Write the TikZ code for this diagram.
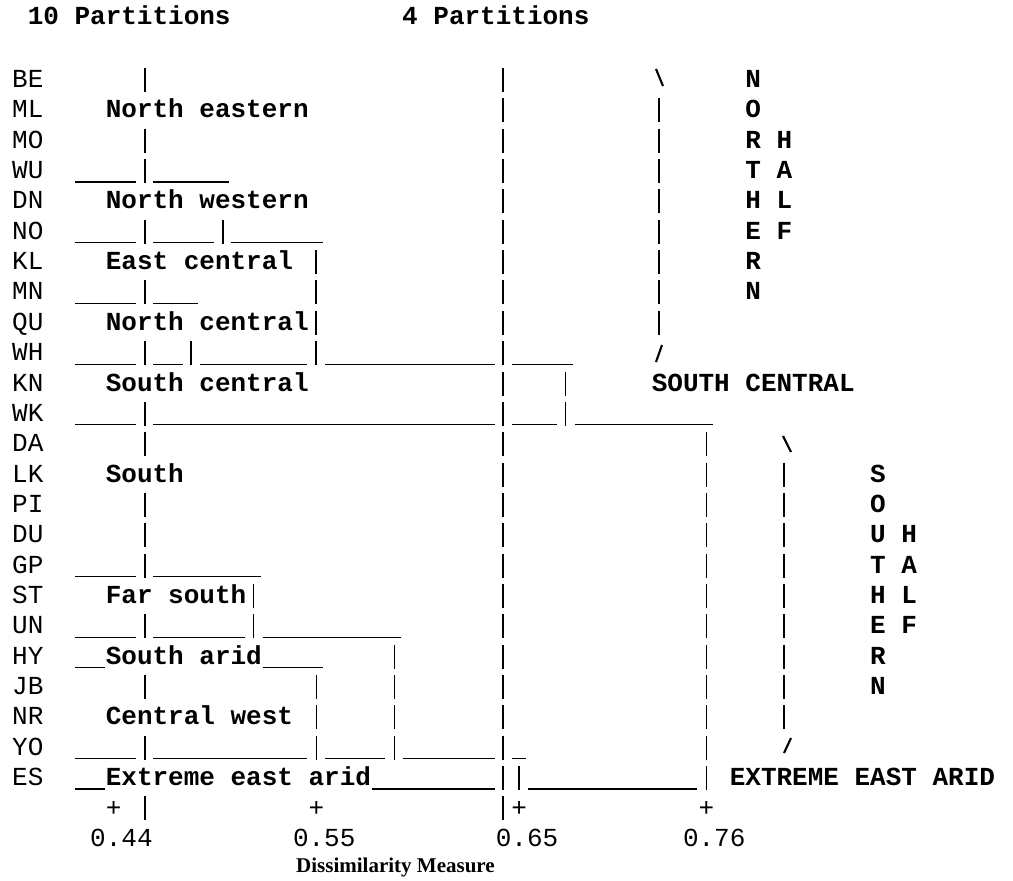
\documentclass[tikz,border=0pt]{standalone}
\usepackage{fontspec}
\setmonofont{Liberation Mono}
\newfontfamily\tnr{Liberation Serif}
\tikzset{
  declare function={cx(\c)=12+15.6*\c; ry(\r)=80+30.35*\r;},
  bar/.style={line width=2.1pt},
  thinbar/.style={line width=1.2pt},
  usline/.style={line width=1.2pt},
  lab/.style={anchor=base west, inner sep=0pt, font=\fontsize{26}{30}\selectfont\ttfamily},
  blab/.style={anchor=base west, inner sep=0pt, font=\fontsize{26}{30}\selectfont\ttfamily\bfseries},
}
\newcommand{\VB}[3][bar]{\draw[#1] ({cx(#3+0.5)},{ry(#2)-12}) -- ({cx(#3+0.5)},{ry(#2)+12});}
\newcommand{\US}[3]{\draw[usline] ({cx(#2)+1},{ry(#1)+11}) -- ({cx(#3+1)-1},{ry(#1)+11});}
\begin{document}
\begin{tikzpicture}[x=1pt,y=-1pt]
\path[fill=white] (0,0) rectangle (1013,881);
\useasboundingbox (0,0) rectangle (1013,881);
% headings
\node[blab] (h10) at ({cx(1)},24.5) {10 Partitions};
\node[blab] (h4) at ({cx(25)},24.5) {4 Partitions};
% row labels
\foreach \t [count=\i from 0] in {BE,ML,MO,WU,DN,NO,KL,MN,QU,WH,KN,WK,DA,LK,PI,DU,GP,ST,UN,HY,JB,NR,YO,ES}
  \node[lab] (row\i) at ({cx(0)},{ry(\i)+7.5}) {\t};
% cluster labels
\node[blab] (c1) at ({cx(6)},{ry(1)+7.5}) {North eastern};
\node[blab] (c2) at ({cx(6)},{ry(4)+7.5}) {North western};
\node[blab] (c3) at ({cx(6)},{ry(6)+7.5}) {East central};
\node[blab] (c4) at ({cx(6)},{ry(8)+7.5}) {North central};
\node[blab] (c5) at ({cx(6)},{ry(10)+7.5}) {South central};
\node[blab] (c6) at ({cx(6)},{ry(13)+7.5}) {South};
\node[blab] (c7) at ({cx(6)},{ry(17)+7.5}) {Far south};
\node[blab] (c8) at ({cx(6)},{ry(19)+7.5}) {South arid};
\node[blab] (c9) at ({cx(6)},{ry(21)+7.5}) {Central west};
\node[blab] (c10) at ({cx(6)},{ry(23)+7.5}) {Extreme east arid};
\node[blab] (p1) at ({cx(41)},{ry(10)+7.5}) {SOUTH CENTRAL};
\node[blab] (p2) at ({cx(46)},{ry(23)+7.5}) {EXTREME EAST ARID};
% vertical words
\foreach \t [count=\i from 0] in {N,O,R,T,H,E,R,N}
  \node[blab] (n\i) at ({cx(47)},{ry(\i)+7.5}) {\t};
\foreach \t [count=\i from 2] in {H,A,L,F}
  \node[blab] (nh\i) at ({cx(49)},{ry(\i)+7.5}) {\t};
\foreach \t [count=\i from 13] in {S,O,U,T,H,E,R,N}
  \node[blab] (s\i) at ({cx(55)},{ry(\i)+7.5}) {\t};
\foreach \t [count=\i from 15] in {H,A,L,F}
  \node[blab] (sh\i) at ({cx(57)},{ry(\i)+7.5}) {\t};
% vertical bars
\foreach \r in {0,2,3,5,7,9,11,12,14,15,16,18,20,22,24} {\VB{\r}{8}}
\VB{5}{13}
\VB{9}{11}
\foreach \r in {6,7,8,9} {\VB{\r}{19}}
\foreach \r in {20,21,22} {\VB[thinbar]{\r}{19}}
\foreach \r in {17,18} {\VB[thinbar]{\r}{15}}
\foreach \r in {19,20,21,22} {\VB[thinbar]{\r}{24}}
\foreach \r in {0,...,24} {\VB{\r}{31}}
\VB[thinbar]{23}{32}
\foreach \r in {10,11} {\VB[thinbar]{\r}{35}}
\foreach \r in {1,...,8} {\VB{\r}{41}}
\foreach \r in {12,...,23} {\VB[thinbar]{\r}{44}}
\foreach \r in {13,...,21} {\VB{\r}{49}}
% slashes
\draw[bar] (656,69) -- (663,86);
\draw[bar] (656,362) -- (662,345);
\draw[bar] (783,436) -- (791,452);
\draw[bar] (784,753) -- (791,738);
% underscores
\US{3}{4}{7} \US{3}{9}{13}
\US{5}{4}{7} \US{5}{9}{12} \US{5}{14}{19}
\US{7}{4}{7} \US{7}{9}{11}
\US{9}{4}{7} \US{9}{9}{10} \US{9}{12}{18} \US{9}{20}{30} \US{9}{32}{35}
\US{11}{4}{7} \US{11}{9}{30} \US{11}{32}{34} \US{11}{36}{44}
\US{16}{4}{7} \US{16}{9}{15}
\US{18}{4}{7} \US{18}{9}{14} \US{18}{16}{24}
\US{19}{4}{5} \US{19}{16}{19}
\US{22}{4}{7} \US{22}{9}{18} \US{22}{20}{23} \US{22}{25}{30} \US{22}{32}{32}
\US{23}{4}{5} \US{23}{23}{30} \US{23}{33}{43}
% ticks
\foreach \c in {6,19,32,44} \node[lab] (tk\c) at ({cx(\c)},816) {+};
\node[lab] (v1) at ({cx(5)},846) {0.44};
\node[lab] (v2) at ({cx(18)},846) {0.55};
\node[lab] (v3) at ({cx(31)},846) {0.65};
\node[lab] (v4) at ({cx(43)},846) {0.76};
\node[anchor=base west, inner sep=0pt, font=\fontsize{21}{24}\selectfont\tnr\bfseries] (dm) at (296,872) {Dissimilarity Measure};
\end{tikzpicture}
\end{document}
